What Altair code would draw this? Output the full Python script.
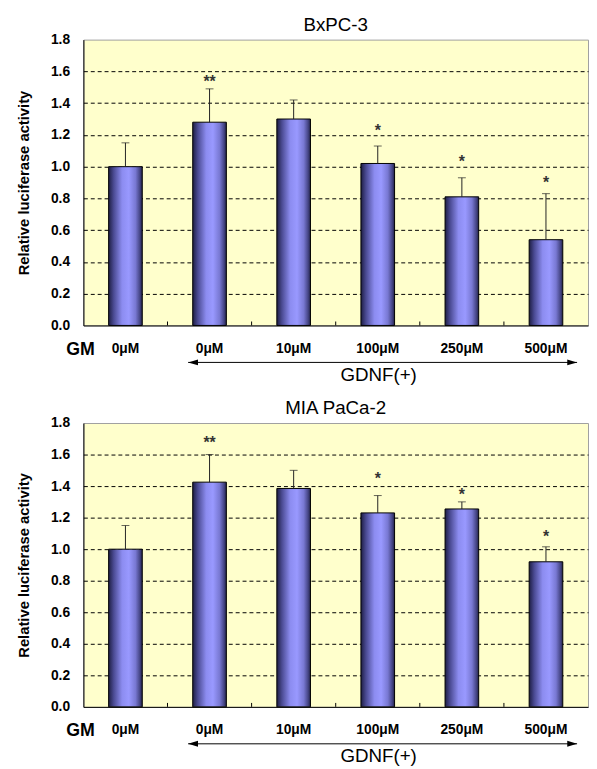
import altair as alt
import pandas as pd

# ---- data ----
categories = ["c1", "c2", "c3", "c4", "c5", "c6"]
dose_labels = ["0μM", "0μM", "10μM", "100μM", "250μM", "500μM"]

bx_mean = [1.00, 1.28, 1.30, 1.02, 0.81, 0.54]
bx_err = [0.15, 0.21, 0.12, 0.11, 0.12, 0.29]
bx_sig = ["", "**", "", "*", "*", "*"]
bx_sig_y = [None, 1.54, None, 1.23, 1.035, 0.90]

mia_mean = [1.00, 1.425, 1.385, 1.23, 1.255, 0.92]
mia_err = [0.15, 0.175, 0.115, 0.11, 0.045, 0.095]
mia_sig = ["", "**", "", "*", "*", "*"]
mia_sig_y = [None, 1.68, None, 1.45, 1.35, 1.08]

y_ticks = [0.0, 0.2, 0.4, 0.6, 0.8, 1.0, 1.2, 1.4, 1.6, 1.8]

FONT = "Liberation Sans"
W = 512
STEP = W / 6.0

bar_fill = alt.LinearGradient(
    gradient="linear", x1=0, x2=1, y1=0, y2=0,
    stops=[
        alt.GradientStop(color="#1e1e44", offset=0.0),
        alt.GradientStop(color="#4a4a92", offset=0.15),
        alt.GradientStop(color="#8c8cf0", offset=0.4),
        alt.GradientStop(color="#9999ff", offset=0.6),
        alt.GradientStop(color="#7878d2", offset=0.8),
        alt.GradientStop(color="#454585", offset=0.93),
        alt.GradientStop(color="#222246", offset=1.0),
    ],
)

x_axis = alt.Axis(labels=False, ticks=False, title=None, grid=False,
                  domainColor="#000000", domainWidth=1)
y_axis = alt.Axis(
    values=y_ticks, format=".1f", title="Relative luciferase activity",
    ticks=False, labelPadding=14, labelFont=FONT, labelFontSize=14,
    labelFontWeight="bold", labelColor="#000000", labelOverlap=False,
    labelBound=False, labelFlush=False,
    titleFont=FONT, titleFontSize=15, titleFontWeight="bold",
    titleColor="#000000", titlePadding=19,
    domainColor="#000000", domainWidth=1,
    gridColor="#000000", gridDash=[4, 3], gridWidth=1,
    gridOpacity={"condition": {"test": "datum.value >= 1.79 || datum.value <= 0.01", "value": 0}, "value": 1},
)
x_scale = alt.Scale(paddingInner=0.6, paddingOuter=0.3)
y_scale = alt.Scale(domain=[0, 1.8], nice=False, zero=True)


def X(**kw):
    return alt.X("cat:N", sort=categories, scale=x_scale, axis=x_axis, **kw)


def Y(field):
    return alt.Y(field, scale=y_scale, axis=y_axis)


def panel(title, mean, err, sig, sig_y, H, title_dy):
    df = pd.DataFrame({
        "cat": categories,
        "label": dose_labels,
        "mean": mean,
        "upper": [m + e for m, e in zip(mean, err)],
        "sig": sig,
        "sig_y": sig_y,
    })
    base = alt.Chart(df)
    bars = base.mark_bar(fill=bar_fill, stroke="#000000", strokeWidth=1).encode(
        x=X(), y=Y("mean:Q"))
    err_rule = base.mark_rule(color="#222222", strokeWidth=1).encode(
        x=X(), y=Y("mean:Q"), y2="upper:Q")
    caps = base.mark_tick(color="#222222", size=8, thickness=1, orient="horizontal").encode(
        x=X(), y=Y("upper:Q"))
    stars = base.transform_filter("datum.sig != ''").mark_text(
        font=FONT, fontSize=16, fontWeight="bold", color="#333333", baseline="middle", dy=1
    ).encode(x=X(), y=Y("sig_y:Q"), text="sig:N")
    labels = base.mark_text(
        font=FONT, fontSize=14, fontWeight="bold", color="#000000", baseline="middle"
    ).encode(x=X(), y=alt.value(H + 24), text="label:N")
    bticks = base.transform_filter("datum.cat != 'c1'").mark_rule(
        color="#000000", strokeWidth=1, xOffset=-0.3 * STEP
    ).encode(x=X(bandPosition=0), y=alt.value(H), y2=alt.value(H - 4))

    deco = alt.Chart(pd.DataFrame({"t": ["GM"]}))
    gm = deco.mark_text(font=FONT, fontSize=18, fontWeight="bold", color="#000000",
                        baseline="middle").encode(x=alt.value(-3), y=alt.value(H + 24.5), text="t:N")
    a0 = STEP * 1.25 - 0.4
    a1 = STEP * 5.87
    arrow = deco.mark_rule(color="#000000", strokeWidth=1).encode(
        x=alt.value(a0), x2=alt.value(a1), y=alt.value(H + 37.5))
    head_l = deco.mark_point(shape="M-1,0L1,-0.6L1,0.6Z", size=100, filled=True,
                             color="#000000", opacity=1).encode(
        x=alt.value(a0 + 5), y=alt.value(H + 37.5))
    head_r = deco.mark_point(shape="M1,0L-1,-0.6L-1,0.6Z", size=100, filled=True,
                             color="#000000", opacity=1).encode(
        x=alt.value(a1 - 5), y=alt.value(H + 37.5))
    gdnf = alt.Chart(pd.DataFrame({"t": ["GDNF(+)"]})).mark_text(
        font=FONT, fontSize=19, color="#000000", baseline="middle"
    ).encode(x=alt.value(STEP * 3.51), y=alt.value(H + 50), text="t:N")
    ttl = alt.Chart(pd.DataFrame({"t": [title]})).mark_text(
        font=FONT, fontSize=19, color="#000000", baseline="middle"
    ).encode(x=alt.value(W / 2), y=alt.value(title_dy), text="t:N")

    return alt.layer(bars, err_rule, caps, stars, labels, bticks, gm, arrow,
                     head_l, head_r, gdnf, ttl).properties(width=W, height=H)


top = panel("BxPC-3", bx_mean, bx_err, bx_sig, bx_sig_y, 290, -14.5)
bottom = panel("MIA PaCa-2", mia_mean, mia_err, mia_sig, mia_sig_y, 288, -15.5)

chart = alt.vconcat(top, bottom, spacing=13).properties(
    padding={"left": 8.5, "top": 2.5, "right": 0, "bottom": 0},
    background="#ffffff",
).configure_view(
    fill="#ffffcc", stroke="#a0a0a0", strokeWidth=1,
)

chart.save("out.html", embed_options={"renderer": "svg", "actions": False})
